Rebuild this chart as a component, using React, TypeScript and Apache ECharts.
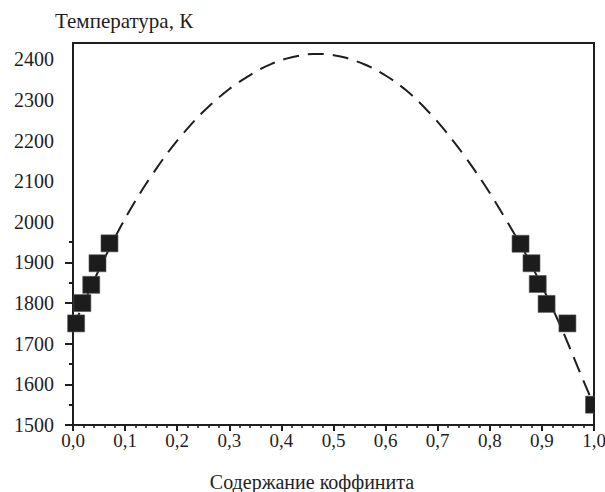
import React, { useEffect, useRef } from "react";
import * as echarts from "echarts";

const pointsX = [0.006, 0.018, 0.035, 0.047, 0.07, 0.859, 0.88, 0.892, 0.909, 0.949, 1.0];
const pointsT = [1750, 1800, 1845, 1898, 1947, 1946, 1898, 1847, 1798, 1750, 1550];

const curveX = [0.0, 0.02, 0.04, 0.06, 0.08, 0.1, 0.12, 0.14, 0.16, 0.18, 0.2, 0.22, 0.24, 0.26, 0.28, 0.3, 0.32, 0.34, 0.36, 0.38, 0.4, 0.42, 0.44, 0.46, 0.48, 0.5, 0.52, 0.54, 0.56, 0.58, 0.6, 0.62, 0.64, 0.66, 0.68, 0.7, 0.72, 0.74, 0.76, 0.78, 0.8, 0.82, 0.84, 0.86, 0.88, 0.9, 0.92, 0.94, 0.96, 0.98, 1.0];
const curveT = [1740, 1798, 1855, 1909, 1960, 2008, 2052, 2093, 2131, 2167, 2200, 2230, 2258, 2283, 2306, 2327, 2345, 2361, 2376, 2388, 2398, 2405, 2410, 2413, 2413, 2410, 2405, 2397, 2387, 2375, 2360, 2343, 2323, 2300, 2274, 2246, 2215, 2182, 2147, 2110, 2071, 2029, 1986, 1942, 1893, 1842, 1788, 1731, 1670, 1608, 1548];

const yMajorTicks = [1500, 1600, 1700, 1800, 1900];
const yMinorTicks = [1550, 1650, 1750, 1850, 1950];

const xAxisTitle = "Содержание коффинита";
const yAxisTitle = "Температура, К";

const FONT = "Liberation Serif, Times New Roman, serif";
const INK = "#1e1e1e";

export default function App() {
  const ref = useRef<HTMLDivElement>(null);
  useEffect(() => {
    if (!ref.current) return;
    const chart = echarts.init(ref.current, undefined, { renderer: "svg" });
    chart.setOption({
      animation: false,
      backgroundColor: "#ffffff",
      textStyle: { fontFamily: FONT },
      grid: {
        left: 73,
        right: 11,
        top: 43,
        bottom: 67,
        containLabel: false,
        outerBoundsMode: "none",
        show: true,
        borderColor: INK,
        borderWidth: 2,
        backgroundColor: "transparent",
      },
      xAxis: {
        type: "value",
        min: 0,
        max: 1,
        interval: 0.1,
        axisLine: { show: true, onZero: false, lineStyle: { color: INK, width: 2 } },
        axisTick: { show: true, length: 6, lineStyle: { color: INK, width: 2 } },
        minorTick: { show: true, splitNumber: 5, length: 3, lineStyle: { color: INK, width: 1.5 } },
        splitLine: { show: false },
        axisLabel: {
          margin: 6,
          color: INK,
          fontFamily: FONT,
          fontSize: 19,
          formatter: (v: number) => v.toFixed(1).replace(".", ","),
        },
      },
      yAxis: [
        {
          type: "value",
          min: 1500,
          max: 2440,
          interval: 100,
          axisLine: { show: true, onZero: false, lineStyle: { color: INK, width: 2 } },
          axisTick: { show: true, length: 8, customValues: yMajorTicks, lineStyle: { color: INK, width: 2 } },
          splitLine: { show: false },
          axisLabel: {
            margin: 19,
            color: INK,
            fontFamily: FONT,
            fontSize: 20,
            showMaxLabel: false,
            formatter: (v: number) => (v % 100 === 0 ? String(v) : ""),
          },
        },
        {
          type: "value",
          position: "left",
          min: 1500,
          max: 2440,
          interval: 100,
          axisLine: { show: false },
          axisTick: { show: true, length: 4, customValues: yMinorTicks, lineStyle: { color: INK, width: 2 } },
          splitLine: { show: false },
          axisLabel: { show: false },
        },
      ],
      series: [
        {
          type: "line",
          data: curveX.map((x, i) => [x, curveT[i]]),
          showSymbol: false,
          symbol: "none",
          smooth: 0.3,
          lineStyle: { color: INK, width: 2, type: [16, 9] },
          z: 2,
        },
        {
          type: "scatter",
          data: pointsX.map((x, i) => [x, pointsT[i]]),
          symbol: "rect",
          symbolSize: 17,
          clip: false,
          itemStyle: { color: "#1c1c1c", borderColor: "#555", borderWidth: 0.6, opacity: 1 },
          z: 3,
        },
      ],
      graphic: [
        {
          type: "rect",
          shape: { x: 595, y: 390, width: 20, height: 30 },
          style: { fill: "#ffffff" },
          z: 100,
        },
        {
          type: "text",
          left: 55,
          top: 10,
          style: { text: yAxisTitle, fontFamily: FONT, fontSize: 21, fill: INK },
          z: 100,
        },
        {
          type: "text",
          x: 312,
          y: 482,
          style: {
            text: xAxisTitle,
            fontFamily: FONT,
            fontSize: 20,
            fill: INK,
            align: "center",
            verticalAlign: "middle",
          },
          z: 100,
        },
      ],
    });
    return () => chart.dispose();
  }, []);
  return (
    <div
      ref={ref}
      style={{ position: "fixed", left: 0, top: 0, width: 605, height: 492, background: "#fff" }}
    />
  );
}
